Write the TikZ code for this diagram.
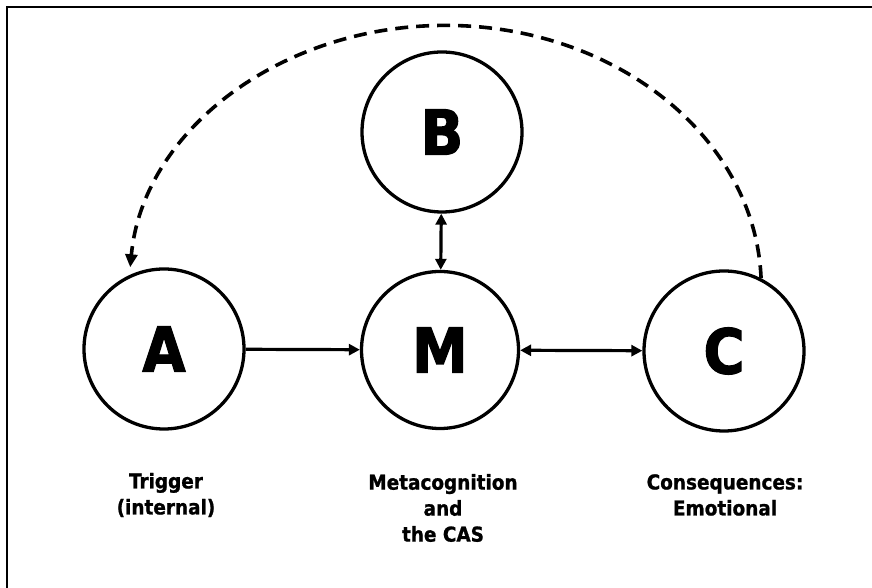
\documentclass[tikz,border=0pt]{standalone}
\usepackage{fontspec}
\usetikzlibrary{arrows.meta}
\newfontfamily\bigfont{DejaVu Sans Condensed Bold}[FakeBold=2]
\newfontfamily\labfont{DejaVu Sans Condensed Bold}[FakeBold=1]
\begin{document}
\begin{tikzpicture}[x=1pt,y=1pt,
  letter/.style={circle, draw, line width=3.3pt, minimum size=160pt, inner sep=0pt,
    font=\bigfont\fontsize{62}{62}\selectfont},
  lab/.style={align=center, font=\labfont\fontsize{20.5}{26}\selectfont},
  link/.style={line width=3.2pt, {Triangle[length=11pt,width=11pt]}-{Triangle[length=11pt,width=11pt]}},
  fwd/.style={line width=3.2pt, -{Triangle[length=11pt,width=11pt]}},
  back/.style={line width=3.6pt, dash pattern=on 13pt off 8pt, -{Triangle[length=13pt,width=12pt]}}]
\useasboundingbox (0,0) rectangle (872,588);
\fill[white] (0,0) rectangle (872,588);
\draw[line width=2pt] (7,-2) -- (7,581) -- (874,581);
\node[letter] (A) at (164,239) {A};
\node[letter, minimum size=157pt] (M) at (440,238) {M};
\node[letter] (C) at (724,237) {C};
\node[letter] (B) at (442,456) {B};
\draw[fwd] (A) -- (M);
\draw[link] (M) -- (C);
\draw[link] (B) -- (M);
\draw[back] (C.63) arc[start angle=2, end angle=175.6, x radius=316, y radius=262];
\node[lab] (ta) at (166,93) {Trigger\\(internal)};
\node[lab] (tm) at (443,80) {Metacognition\\and\\the CAS};
\node[lab] (tc) at (725,93) {Consequences:\\Emotional};
\end{tikzpicture}
\end{document}
